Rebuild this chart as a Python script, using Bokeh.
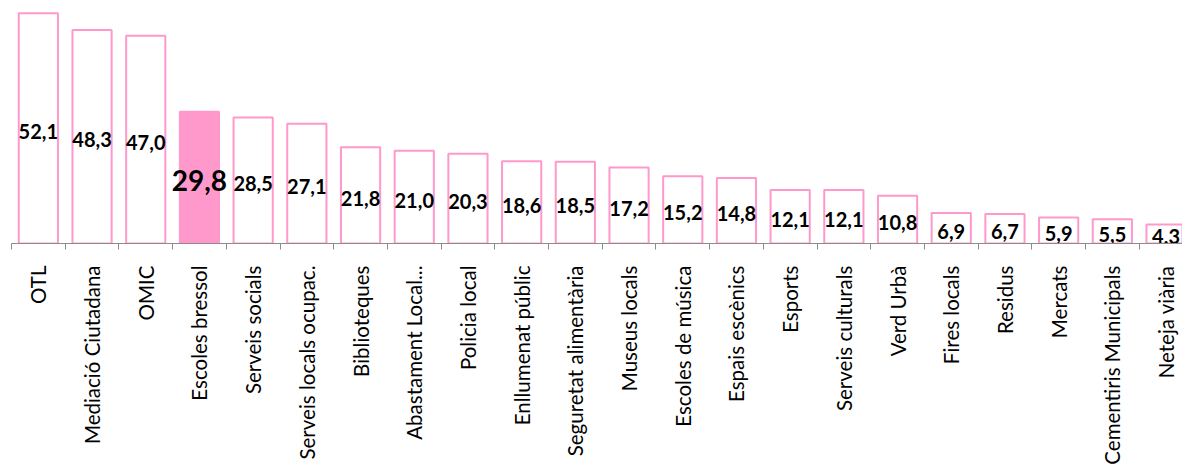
import math
from bokeh.plotting import figure
from bokeh.models import ColumnDataSource, FixedTicker, Range1d
from bokeh.core.properties import value
from bokeh.embed import file_html
from bokeh.resources import INLINE

categories = ["OTL", "Mediació Ciutadana", "OMIC", "Escoles bressol", "Serveis socials",
              "Serveis locals ocupac.", "Biblioteques", "Abastament Local...", "Policia local",
              "Enllumenat públic", "Seguretat alimentària", "Museus locals", "Escoles de música",
              "Espais escènics", "Esports", "Serveis culturals", "Verd Urbà", "Fires locals",
              "Residus", "Mercats", "Cementiris Municipals", "Neteja viària"]
values = [52.1, 48.3, 47.0, 29.8, 28.5, 27.1, 21.8, 21.0, 20.3, 18.6, 18.5, 17.2,
          15.2, 14.8, 12.1, 12.1, 10.8, 6.9, 6.7, 5.9, 5.5, 4.3]
highlight = "Escoles bressol"

PINK = "#FF99CC"
AXIS = "#8C8C8C"

n = len(categories)
centers = [i + 0.5 for i in range(n)]
labels = [f"{v:.1f}".replace(".", ",") for v in values]
is_hl = [c == highlight for c in categories]

src = ColumnDataSource(dict(
    x=centers, top=values, label=labels,
    fill=[PINK if h else "white" for h in is_hl],
))
norm_idx = [i for i in range(n) if not is_hl[i]]
hl_idx = [i for i in range(n) if is_hl[i]]
src_norm = ColumnDataSource(dict(
    x=[centers[i] for i in norm_idx], mid=[values[i] / 2 for i in norm_idx],
    label=[labels[i] for i in norm_idx]))
src_hl = ColumnDataSource(dict(
    x=[centers[i] for i in hl_idx], mid=[values[i] / 2 for i in hl_idx],
    label=[labels[i] for i in hl_idx]))

p = figure(width=1182, height=467, output_backend="svg", toolbar_location=None,
           x_range=Range1d(0, 1171 / 53.7), y_range=Range1d(0, 52.73),
           y_axis_location=None, min_border_top=10, min_border_left=11,
           min_border_right=0, min_border_bottom=0)
p.outline_line_color = None
p.xgrid.visible = False
p.ygrid.visible = False
p.background_fill_color = "white"

p.vbar(x="x", top="top", bottom=0, width=0.73, source=src,
       fill_color="fill", line_color=PINK, line_width=2)

p.text(x="x", y="mid", text="label", source=src_norm, text_align="center",
       text_baseline="middle", text_font=value("Lato"), text_font_style="bold",
       text_font_size="20px", text_color="black", y_offset=3)
p.text(x="x", y="mid", text="label", source=src_hl, text_align="center",
       text_baseline="middle", text_font=value("Lato"), text_font_style="bold",
       text_font_size="28px", text_color="black", y_offset=3)

ax = p.xaxis[0]
ax.ticker = FixedTicker(ticks=centers, minor_ticks=list(range(n + 1)))
ax.major_label_overrides = {c: name for c, name in zip(centers, categories)}
ax.major_label_orientation = math.pi / 2
ax.major_label_text_font = "Lato"
ax.major_label_text_font_size = "20.5px"
ax.major_label_text_color = "black"
ax.major_label_standoff = 16
ax.major_tick_out = 0
ax.major_tick_in = 0
ax.minor_tick_out = 6
ax.minor_tick_in = 0
ax.minor_tick_line_color = AXIS
ax.axis_line_color = AXIS
ax.axis_line_width = 1

open("out.html", "w").write(file_html(p, INLINE))
